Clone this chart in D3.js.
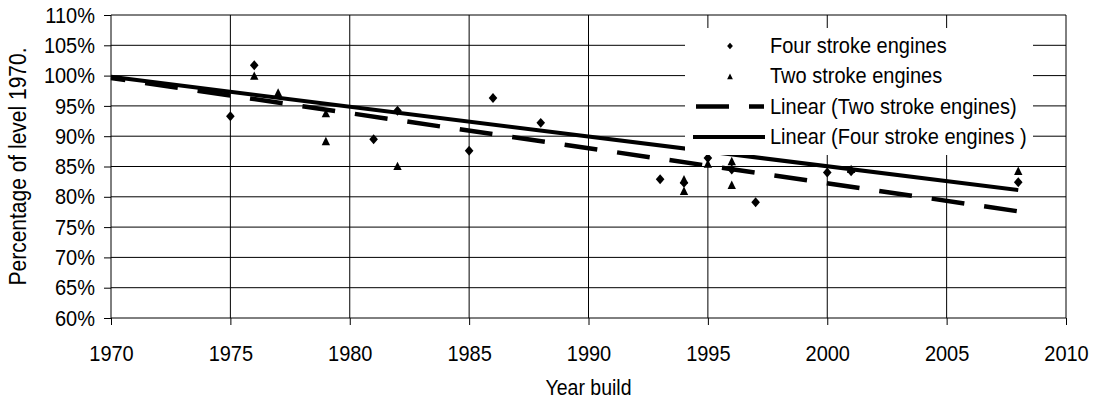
<!DOCTYPE html>
<html>
<head>
<meta charset="utf-8">
<script src="https://cdn.jsdelivr.net/npm/d3@7"></script>
<style>
  body { margin: 0; background: #fff; }
  text { font-family: "Liberation Sans", Arial, sans-serif; fill: #000; }
</style>
</head>
<body>
<svg width="1095" height="400"></svg>
<script>
// data
var xTicks = [1970, 1975, 1980, 1985, 1990, 1995, 2000, 2005, 2010];
var yTicks = [60, 65, 70, 75, 80, 85, 90, 95, 100, 105, 110];

var fourYears = [1975, 1976, 1981, 1982, 1985, 1986, 1988, 1993, 1994, 1995, 1996, 1997, 2000, 2001, 2008];
var fourValues = [93.3, 101.7, 89.5, 94.2, 87.6, 96.3, 92.2, 82.9, 82.3, 86.4, 84.5, 79.1, 84.0, 84.2, 82.4];

var twoYears = [1976, 1977, 1979, 1979, 1982, 1994, 1994, 1995, 1996, 1996, 2001, 2008];
var twoValues = [100.0, 97.2, 93.8, 89.2, 85.1, 82.9, 81.0, 85.5, 85.9, 82.0, 84.6, 84.3];

// trendline end points (Linear fits as drawn)
var trendYears = [1970, 2008];
var trendFour = [99.8, 81.1];
var trendTwo = [99.6, 77.6];

var legendLabels = ["Four stroke engines", "Two stroke engines", "Linear (Two stroke engines)", "Linear (Four stroke engines )"];

var svg = d3.select("svg"),
    margin = {top: 15, right: 29, bottom: 82, left: 111},
    width = +svg.attr("width") - margin.left - margin.right,
    height = +svg.attr("height") - margin.top - margin.bottom,
    g = svg.append("g").attr("transform", "translate(" + margin.left + "," + margin.top + ")");

// the original text is drawn a little taller than wide
var stretch = 1.12;

var x = d3.scaleLinear().domain([1970, 2010]).range([0, width]);
var y = d3.scaleLinear().domain([60, 110]).range([height, 0]);

// gridlines
g.append("g").selectAll("line")
  .data(yTicks)
  .enter().append("line")
    .attr("x1", 0).attr("x2", width)
    .attr("y1", function(d) { return y(d); })
    .attr("y2", function(d) { return y(d); })
    .attr("stroke", "#000").attr("stroke-width", 1);

g.append("g").selectAll("line")
  .data(xTicks)
  .enter().append("line")
    .attr("y1", 0).attr("y2", height)
    .attr("x1", function(d) { return x(d); })
    .attr("x2", function(d) { return x(d); })
    .attr("stroke", "#000").attr("stroke-width", 1);

// axes
var xAxis = g.append("g")
    .attr("transform", "translate(0," + height + ")")
    .call(d3.axisBottom(x).tickValues(xTicks).tickSize(7).tickPadding(17).tickFormat(d3.format("d")));
var yAxis = g.append("g")
    .call(d3.axisLeft(y).tickValues(yTicks).tickSize(7).tickPadding(9).tickFormat(function(d) { return d + "%"; }));

[xAxis, yAxis].forEach(function(a) {
  a.select(".domain").remove();
  a.selectAll(".tick line").attr("stroke", "#000");
  a.selectAll("text")
    .attr("font-size", 20)
    .attr("font-family", null)
    .attr("fill", "#000")
    .attr("transform", "scale(1," + stretch + ")");
});

// trendlines
var line = d3.line()
  .x(function(d) { return x(d[0]); })
  .y(function(d) { return y(d[1]); });

g.append("path")
  .datum(trendYears.map(function(t, i) { return [t, trendTwo[i]]; }))
  .attr("d", line)
  .attr("fill", "none")
  .attr("stroke", "#000")
  .attr("stroke-width", 4.5)
  .attr("stroke-dasharray", "33,20")
  .attr("stroke-dashoffset", 18.5);

g.append("path")
  .datum(trendYears.map(function(t, i) { return [t, trendFour[i]]; }))
  .attr("d", line)
  .attr("fill", "none")
  .attr("stroke", "#000")
  .attr("stroke-width", 4);

// markers
var diamond = function(s) { return "M0," + (-s * 1.15) + "L" + s + ",0L0," + (s * 1.15) + "L" + (-s) + ",0Z"; };
var triangle = function(s) { return "M0," + (-s) + "L" + s + "," + s + "L" + (-s) + "," + s + "Z"; };

g.append("g").selectAll("path")
  .data(fourYears.map(function(t, i) { return [t, fourValues[i]]; }))
  .enter().append("path")
    .attr("transform", function(d) { return "translate(" + x(d[0]) + "," + y(d[1]) + ")"; })
    .attr("d", diamond(4.3))
    .attr("fill", "#000");

g.append("g").selectAll("path")
  .data(twoYears.map(function(t, i) { return [t, twoValues[i]]; }))
  .enter().append("path")
    .attr("transform", function(d) { return "translate(" + x(d[0]) + "," + y(d[1]) + ")"; })
    .attr("d", triangle(4.2))
    .attr("fill", "#000");

// legend
var legend = svg.append("g").attr("transform", "translate(685,28)");
legend.append("rect")
  .attr("width", 348).attr("height", 127)
  .attr("fill", "#fff");

var rows = legend.selectAll("g")
  .data(legendLabels)
  .enter().append("g")
    .attr("transform", function(d, i) { return "translate(0," + (18 + i * 30.3) + ")"; });

rows.append("text")
  .attr("transform", "translate(85,7) scale(1," + stretch + ")")
  .attr("font-size", 20)
  .text(function(d) { return d; });

rows.filter(function(d, i) { return i === 0; }).append("path")
  .attr("transform", "translate(45,0)")
  .attr("d", diamond(2.9));
rows.filter(function(d, i) { return i === 1; }).append("path")
  .attr("transform", "translate(45,0)")
  .attr("d", triangle(2.9));
rows.filter(function(d, i) { return i === 2; }).append("line")
  .attr("x1", 11).attr("x2", 79)
  .attr("stroke", "#000").attr("stroke-width", 4.5)
  .attr("stroke-dasharray", "33,20");
rows.filter(function(d, i) { return i === 3; }).append("line")
  .attr("x1", 8).attr("x2", 80)
  .attr("stroke", "#000").attr("stroke-width", 4);

// axis titles
svg.append("text")
  .attr("transform", "translate(" + (margin.left + width / 2) + ",395) scale(1," + stretch + ")")
  .attr("text-anchor", "middle")
  .attr("font-size", 19.5)
  .text("Year build");

svg.append("text")
  .attr("transform", "translate(26," + (margin.top + height / 2) + ") rotate(-90) scale(1," + stretch + ")")
  .attr("text-anchor", "middle")
  .attr("font-size", 21)
  .text("Percentage of level 1970.");
</script>
</body>
</html>
